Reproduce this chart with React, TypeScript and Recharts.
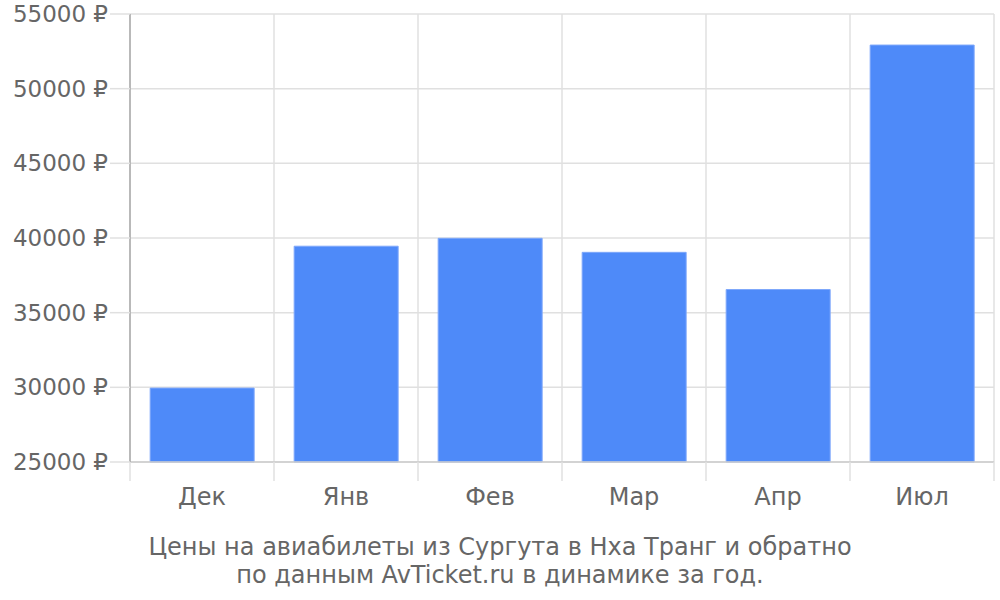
import { BarChart, Bar, XAxis, YAxis, CartesianGrid } from "recharts";

const MONTHS = ["Дек", "Янв", "Фев", "Мар", "Апр", "Июл"];
const PRICES = [29950, 39450, 39980, 39040, 36550, 52920];
const Y_TICKS = [25000, 30000, 35000, 40000, 45000, 50000, 55000];
const BOUNDS = [0, 1, 2, 3, 4, 5, 6];
const CAPTION = [
  "Цены на авиабилеты из Сургута в Нха Транг и обратно",
  "по данным AvTicket.ru в динамике за год.",
];

const data = MONTHS.map((month, i) => ({ month, price: PRICES[i], pos: i + 0.5 }));

const FONT = "'DejaVu Sans', sans-serif";

export default function App() {
  return (
    <div
      style={{
        position: "absolute",
        left: 0,
        top: 0,
        width: 1000,
        height: 600,
        fontFamily: FONT,
        background: "#fff",
      }}
    >
      <BarChart
        width={1000}
        height={600}
        data={data}
        margin={{ top: 14, right: 6, bottom: 78, left: 0 }}
        barCategoryGap="14%"
      >
        <CartesianGrid xAxisId="bounds" stroke="#e0e0e0" strokeWidth={1.5} />
        <XAxis
          xAxisId="bounds"
          type="number"
          dataKey="pos"
          domain={[0, 6]}
          ticks={BOUNDS}
          interval={0}
          tickFormatter={() => ""}
          tickSize={19}
          height={20}
          tickLine={{ stroke: "#e0e0e0", strokeWidth: 1.5 }}
          axisLine={{ stroke: "#cccccc", strokeWidth: 1.5 }}
        />
        <XAxis
          xAxisId="months"
          dataKey="month"
          height={40}
          tickLine={false}
          axisLine={false}
          tickSize={0}
          tickMargin={6}
          tick={{ fill: "#666", fontSize: 24, fontFamily: FONT }}
        />
        <YAxis
          width={130}
          domain={[25000, 55000]}
          ticks={Y_TICKS}
          interval={0}
          tickFormatter={(v) => `${v} ₽`}
          tickSize={20}
          tickMargin={2}
          tickLine={{ stroke: "#e0e0e0", strokeWidth: 1.5 }}
          axisLine={{ stroke: "#aaaaaa", strokeWidth: 1.5 }}
          tick={{ fill: "#666", fontSize: 23, fontFamily: FONT }}
        />
        <Bar
          xAxisId="months"
          dataKey="price"
          fill="#4e8af9"
          stroke="#7ea8fb"
          strokeWidth={1}
          isAnimationActive={false}
        />
      </BarChart>
      <div
        style={{
          position: "absolute",
          left: 0,
          top: 533,
          width: 1000,
          textAlign: "center",
          color: "#666",
          fontSize: 24,
          lineHeight: "28px",
        }}
      >
        {CAPTION.map((line) => (
          <div key={line}>{line}</div>
        ))}
      </div>
    </div>
  );
}
